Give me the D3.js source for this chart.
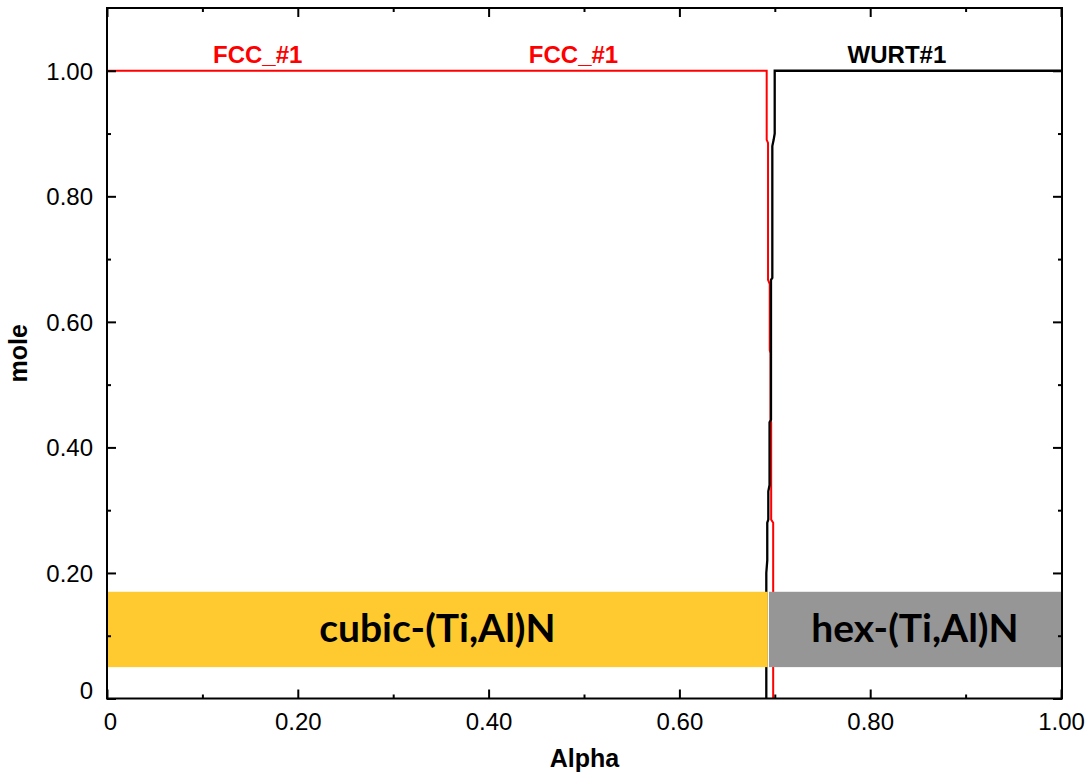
<!DOCTYPE html>
<html><head><meta charset="utf-8">
<script src="https://cdn.jsdelivr.net/npm/d3@7"></script>
<style>body{margin:0;background:#fff}svg{display:block}</style>
</head><body>
<svg id="c" width="1087" height="772"></svg>
<script>
// ---- data ----
const fccAlpha = [0, 0.6915, 0.6915, 0.6929, 0.6929, 0.6947, 0.6947, 0.6955, 0.6955, 0.6962, 0.6962, 0.6983, 0.6983];
const fccMole  = [1.0, 1.0, 0.89, 0.885, 0.667, 0.66, 0.555, 0.55, 0.444, 0.44, 0.285, 0.28, 0.0];
const wurtAlpha = [0.6911, 0.6911, 0.6921, 0.6921, 0.6932, 0.6932, 0.6945, 0.6945, 0.696, 0.696, 0.6974, 0.6974, 0.6988, 0.6999, 0.6999, 1.0];
const wurtMole  = [0.0, 0.2, 0.22, 0.28, 0.285, 0.33, 0.34, 0.44, 0.444, 0.667, 0.67, 0.88, 0.89, 0.9, 1.0, 1.0];
const xTicks = [0, 0.2, 0.4, 0.6, 0.8, 1.0];
const xTickLabels = ["0", "0.20", "0.40", "0.60", "0.80", "1.00"];
const yTicks = [0, 0.2, 0.4, 0.6, 0.8, 1.0];
const yTickLabels = ["0", "0.20", "0.40", "0.60", "0.80", "1.00"];
const minorTicks = [0.1, 0.3, 0.5, 0.7, 0.9];
const phaseLabels = [
  {text: "FCC_#1", alpha: 0.158, mole: 1.025, color: "#ff0000"},
  {text: "FCC_#1", alpha: 0.489, mole: 1.025, color: "#ff0000"},
  {text: "WURT#1", alpha: 0.828, mole: 1.025, color: "#000000"}
];
const regions = [
  {label: "cubic-(Ti,Al)N", x0: 0, x1: 0.6926, y0: 0.05, y1: 0.17, color: "#FFCA30"},
  {label: "hex-(Ti,Al)N", x0: 0.6939, x1: 1.0, y0: 0.05, y1: 0.17, color: "#969696"}
];

// ---- layout ----
const m = {l: 107, r: 1062, t: 8, b: 698.5};
const svg = d3.select("#c");
const x = d3.scaleLinear().domain([0, 1]).range([m.l, m.r - 1]);
const y = d3.scaleLinear().domain([0, 1.1]).range([m.b, m.t]);
const font = "'Liberation Sans', Arial, sans-serif";

// lines
const line = d3.line().x(d => x(d[0])).y(d => y(d[1]));
svg.append("path").datum(fccAlpha.map((a, i) => [a, fccMole[i]]))
  .attr("d", line).attr("fill", "none").attr("stroke", "#ff0000").attr("stroke-width", 2);
svg.append("path").datum(wurtAlpha.map((a, i) => [a, wurtMole[i]]))
  .attr("d", line).attr("fill", "none").attr("stroke", "#000").attr("stroke-width", 2.3);

// regions
regions.forEach(r => {
  svg.append("rect").attr("x", x(r.x0)).attr("y", y(r.y1))
    .attr("width", x(r.x1) - x(r.x0)).attr("height", y(r.y0) - y(r.y1)).attr("fill", r.color);
  svg.append("text").attr("x", (x(r.x0) + x(r.x1)) / 2).attr("y", (y(r.y0) + y(r.y1)) / 2 + 13)
    .attr("text-anchor", "middle").attr("font-family", "Lato, 'Open Sans', sans-serif")
    .attr("font-weight", "bold").attr("font-size", 39).attr("fill", "#000").text(r.label);
});

// phase labels
phaseLabels.forEach(p => {
  svg.append("text").attr("x", x(p.alpha)).attr("y", y(p.mole) + 8)
    .attr("text-anchor", "middle").attr("font-family", font).attr("font-weight", "bold")
    .attr("font-size", 24).attr("fill", p.color).text(p.text);
});

// axes (inward ticks on all sides)
const gB = svg.append("g").attr("transform", `translate(0,${m.b})`)
  .call(d3.axisBottom(x).tickValues(xTicks).tickSize(-9).tickFormat((d, i) => xTickLabels[i]).tickPadding(14));
const gBm = svg.append("g").attr("transform", `translate(0,${m.b})`)
  .call(d3.axisBottom(x).tickValues(minorTicks).tickSize(-4).tickFormat(""));
const gT = svg.append("g").attr("transform", `translate(0,${m.t})`)
  .call(d3.axisTop(x).tickValues(xTicks).tickSize(-9).tickFormat(""));
const gTm = svg.append("g").attr("transform", `translate(0,${m.t})`)
  .call(d3.axisTop(x).tickValues(minorTicks).tickSize(-4).tickFormat(""));
const gL = svg.append("g").attr("transform", `translate(${m.l},0)`)
  .call(d3.axisLeft(y).tickValues(yTicks).tickSize(-9).tickFormat((d, i) => yTickLabels[i]).tickPadding(14));
const gLm = svg.append("g").attr("transform", `translate(${m.l},0)`)
  .call(d3.axisLeft(y).tickValues(minorTicks).tickSize(-4).tickFormat(""));
const gR = svg.append("g").attr("transform", `translate(${m.r},0)`)
  .call(d3.axisRight(y).tickValues(yTicks).tickSize(-9).tickFormat(""));
const gRm = svg.append("g").attr("transform", `translate(${m.r},0)`)
  .call(d3.axisRight(y).tickValues(minorTicks).tickSize(-4).tickFormat(""));
[gB, gBm, gT, gTm, gL, gLm, gR, gRm].forEach(g => {
  g.select(".domain").remove();
  g.selectAll(".tick line").attr("stroke", "#000").attr("stroke-width", 2);
  g.selectAll("text").attr("font-family", font).attr("font-size", 24).attr("fill", "#000");
});
gL.selectAll(".tick text").attr("dy", "0.35em");
gL.selectAll(".tick").filter(d => d === 0).select("text").attr("transform", "translate(0,-8)");
gB.selectAll(".tick").filter(d => d === 0).select("text").attr("transform", "translate(3,0)");

// frame
svg.append("rect").attr("x", m.l).attr("y", m.t).attr("width", m.r - m.l).attr("height", m.b - m.t)
  .attr("fill", "none").attr("stroke", "#000").attr("stroke-width", 2);

// axis titles
svg.append("text").attr("x", (m.l + m.r) / 2).attr("y", 767).attr("text-anchor", "middle")
  .attr("font-family", font).attr("font-weight", "bold").attr("font-size", 25).text("Alpha");
svg.append("text").attr("transform", `translate(27,${(m.t + m.b) / 2}) rotate(-90)`)
  .attr("text-anchor", "middle").attr("font-family", font).attr("font-weight", "bold")
  .attr("font-size", 25).text("mole");
</script>
</body></html>
